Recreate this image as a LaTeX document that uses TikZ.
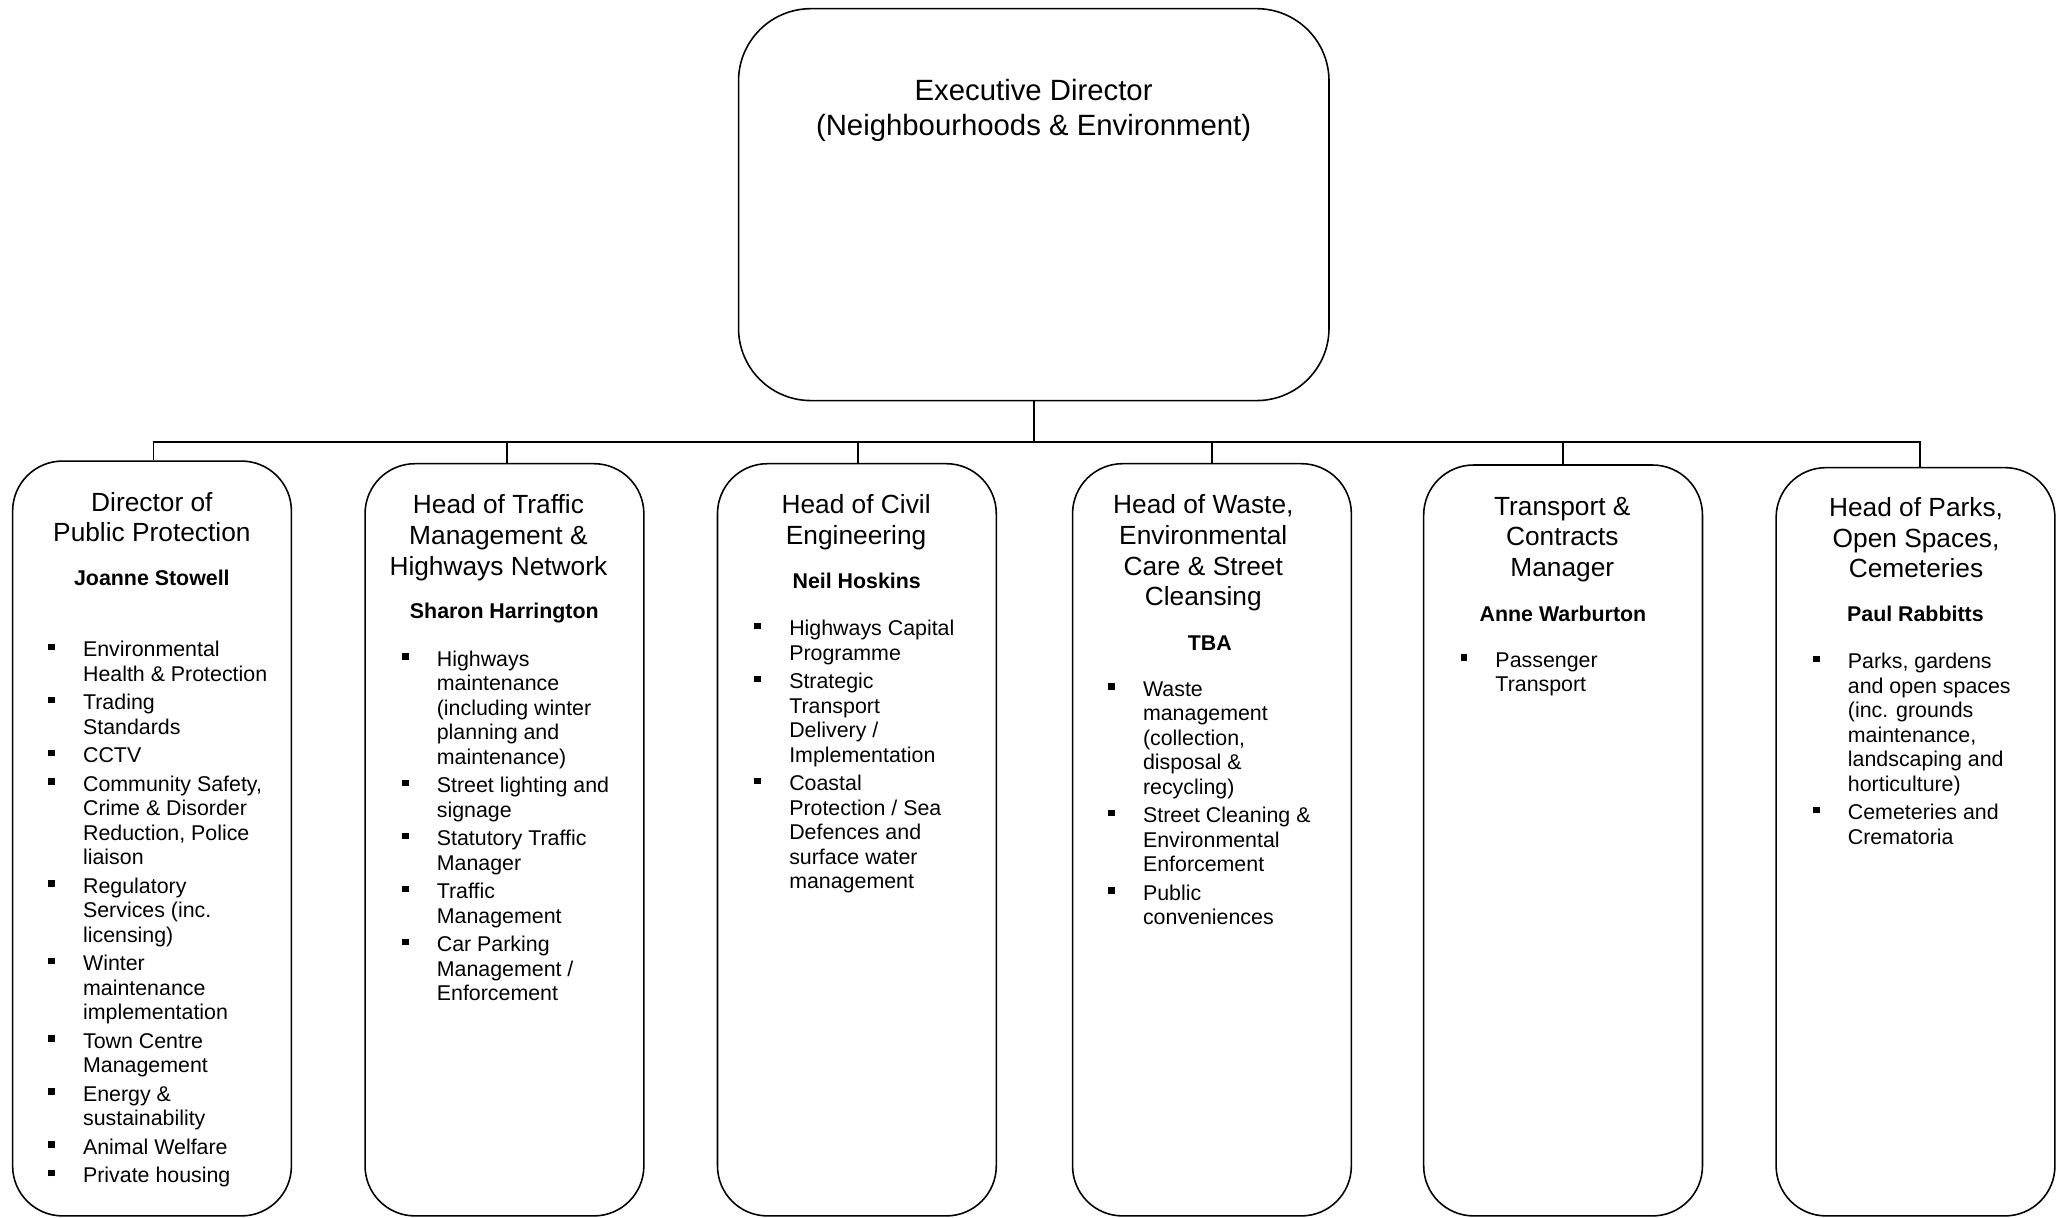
\documentclass[tikz,border=0pt]{standalone}
\usepackage{fontspec}
\setmainfont{Liberation Sans}
\newcommand\itm{\leavevmode\llap{\raisebox{5pt}{\rule{5pt}{5pt}}\hspace{21.5pt}}}
\newcommand\bstr{\rule{0pt}{13pt}}
\newcommand\tstr{\rule{0pt}{16pt}}
\newcommand\xstr{\rule{0pt}{18pt}}
\begin{document}
\begin{tikzpicture}[x=1pt,y=-1pt,
  box/.style={draw, line width=1.2pt, rounded corners=38pt, inner sep=0pt, anchor=north west, minimum width=212pt, minimum height=574pt},
  topbox/.style={draw, line width=1.2pt, rounded corners=55pt, inner sep=0pt, anchor=north west, minimum width=449pt, minimum height=298pt},
  conn/.style={line width=1.2pt},
  toptitle/.style={anchor=north, inner sep=0pt, align=center, font=\fontsize{22.3pt}{26pt}\selectfont},
  title/.style={anchor=north, inner sep=0pt, align=center, font=\fontsize{20pt}{23.3pt}\selectfont},
  pname/.style={anchor=base, inner sep=0pt, font=\fontsize{16.25pt}{18.65pt}\selectfont\bfseries},
  lst/.style={anchor=north west, inner sep=0pt, align=left, font=\fontsize{16.25pt}{18.65pt}\selectfont}
]
\useasboundingbox (0,0) rectangle (1568,926);

% top box
\node[topbox] (top) at (561,6) {};
\node[toptitle] (toptxt) at (786,58.5) {\xstr Executive Director\\(Neighbourhoods \& Environment)};

% lower boxes
\node[box] (b1) at (9,350) {};
\node[box, minimum height=572pt] (b2) at (277,352) {};
\node[box, minimum height=572pt] (b3) at (545,352) {};
\node[box, minimum height=572pt] (b4) at (815,352) {};
\node[box, minimum height=571pt] (b5) at (1082,353) {};
\node[box, minimum height=569pt] (b6) at (1350,355) {};

% connectors
\coordinate (bus) at (785.5,336);
\draw[conn] (top.south) -- (top.south |- bus);
\draw[conn] ([xshift=1pt]b1.north) -- ([xshift=1pt]b1.north |- bus) -- ([xshift=3.5pt]b6.north |- bus) -- ([xshift=3.5pt]b6.north);
\draw[conn] ([xshift=2pt]b2.north) -- ([xshift=2pt]b2.north |- bus);
\draw[conn] ([xshift=1pt]b3.north) -- ([xshift=1pt]b3.north |- bus);
\draw[conn] (b4.north) -- (b4.north |- bus);
\draw[conn] (b5.north) -- (b5.north |- bus);

% box 1
\node[title] (t1) at (115.5,372.5) {\tstr Director of\\Public Protection};
\node[pname] (n1) at (115.5,445.3) {Joanne Stowell};
\node[lst] (l1) at (63,486.3) {\bstr\itm Environmental\\Health \& Protection\\[3pt]
\itm Trading\\Standards\\[3pt]
\itm CCTV\\[3pt]
\itm Community Safety,\\Crime \& Disorder\\Reduction, Police\\liaison\\[3pt]
\itm Regulatory\\Services (inc.\\licensing)\\[3pt]
\itm Winter\\maintenance\\implementation\\[3pt]
\itm Town Centre\\Management\\[3pt]
\itm Energy \&\\sustainability\\[3pt]
\itm Animal Welfare\\[3pt]
\itm Private housing};

% box 2
\node[title] (t2) at (379,374.5) {\tstr Head of Traffic\\Management \&\\Highways Network};
\node[pname] (n2) at (383.5,470.3) {Sharon Harrington};
\node[lst] (l2) at (332,493.3) {\bstr\itm Highways\\maintenance\\(including winter\\planning and\\maintenance)\\[3pt]
\itm Street lighting and\\signage\\[3pt]
\itm Statutory Traffic\\Manager\\[3pt]
\itm Traffic\\Management\\[3pt]
\itm Car Parking\\Management /\\Enforcement};

% box 3
\node[title] (t3) at (651,374.5) {\tstr Head of Civil\\Engineering};
\node[pname] (n3) at (651.5,447.3) {Neil Hoskins};
\node[lst] (l3) at (600,470.3) {\bstr\itm Highways Capital\\Programme\\[3pt]
\itm Strategic\\Transport\\Delivery /\\Implementation\\[3pt]
\itm Coastal\\Protection / Sea\\Defences and\\surface water\\management};

% box 4
\node[title] (t4) at (915,374.5) {\tstr Head of Waste,\\Environmental\\Care \& Street\\Cleansing};
\node[pname] (n4) at (920,494.3) {TBA};
\node[lst] (l4) at (869,516.3) {\bstr\itm Waste\\management\\(collection,\\disposal \&\\recycling)\\[3pt]
\itm Street Cleaning \&\\Environmental\\Enforcement\\[3pt]
\itm Public\\conveniences};

% box 5
\node[title] (t5) at (1188,375.5) {\tstr Transport \&\\Contracts\\Manager};
\node[pname] (n5) at (1188.5,472.3) {Anne Warburton};
\node[lst] (l5) at (1137,494.3) {\bstr\itm Passenger\\Transport};

% box 6
\node[title] (t6) at (1457,376.5) {\tstr Head of Parks,\\Open Spaces,\\Cemeteries};
\node[pname] (n6) at (1456.5,472.3) {Paul Rabbitts};
\node[lst] (l6) at (1405,495.3) {\bstr\itm Parks, gardens\\and open spaces\\(inc. grounds\\maintenance,\\landscaping and\\horticulture)\\[3pt]
\itm Cemeteries and\\Crematoria};
\end{tikzpicture}
\end{document}
